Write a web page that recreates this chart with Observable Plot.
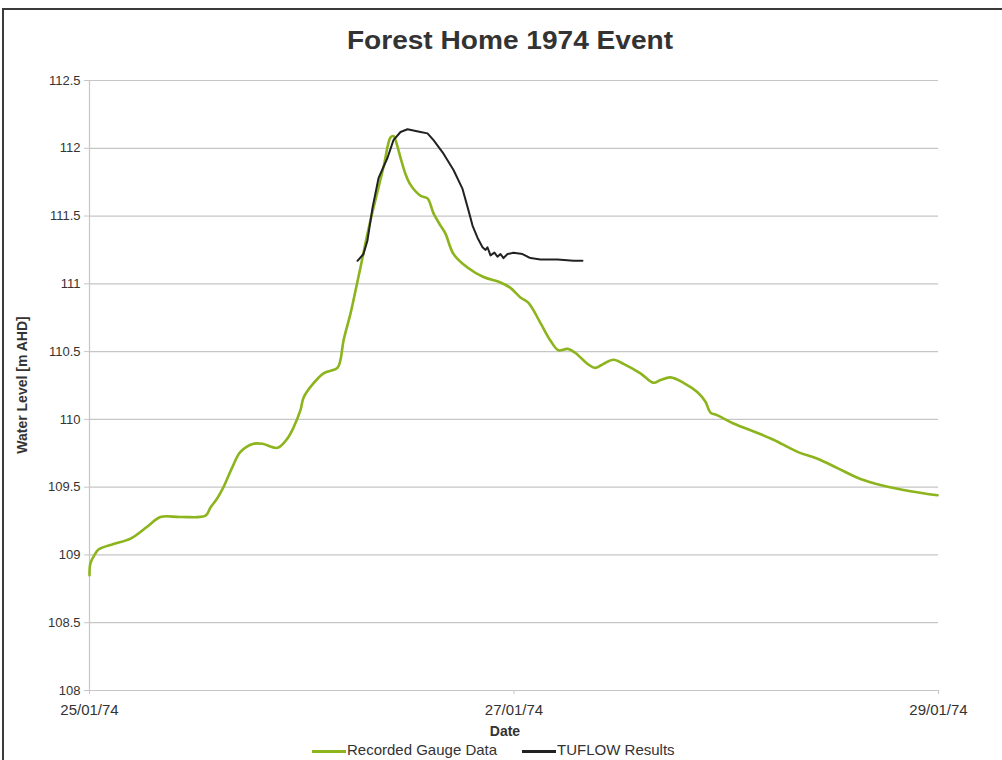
<!DOCTYPE html>
<html>
<head>
<meta charset="utf-8">
<script src="https://cdn.jsdelivr.net/npm/d3@7"></script>
<script src="https://cdn.jsdelivr.net/npm/@observablehq/plot@0.6"></script>
<style>
  html, body { margin: 0; padding: 0; background: #fff; width: 1002px; height: 760px; overflow: hidden; }
  body { position: relative; font-family: "Liberation Sans", Arial, sans-serif; color: #333; }
  #frame { position: absolute; left: 2px; top: 8px; width: 1100px; height: 800px;
           border-left: 2px solid #3a3a3a; border-top: 2px solid #3a3a3a; box-sizing: border-box; }
  #title { position: absolute; left: 0; width: 1020px; top: 25px; text-align: center;
           font-size: 26px; font-weight: bold; line-height: 30px; color: #333;
           transform: scaleX(1.08); transform-origin: 510px 0; }
  #chart { position: absolute; left: 0; top: 60px; }
  #ylabel { position: absolute; left: 22px; top: 385px; transform: translate(-50%, -50%) rotate(-90deg);
            font-size: 14px; font-weight: bold; white-space: nowrap; color: #333; }
  #xlabel { position: absolute; left: 0; width: 1010px; top: 723px; text-align: center;
            font-size: 14px; font-weight: bold; color: #333; }
  #legend { position: absolute; left: 312px; top: 741px; font-size: 15px; line-height: 18px; white-space: nowrap; color: #333; }
  #legend span.sw { display: inline-block; width: 34px; height: 3px; vertical-align: middle; margin-right: 1px; }
</style>
</head>
<body>
<div id="frame"></div>
<div id="title">Forest Home 1974 Event</div>
<div id="chart"></div>
<div id="ylabel">Water Level [m AHD]</div>
<div id="xlabel">Date</div>
<div id="legend"><span class="sw" style="background:#8cb41c"></span>Recorded Gauge Data<span style="display:inline-block;width:25px"></span><span class="sw" style="background:#222"></span>TUFLOW Results</div>
<script>
// Hours after 25/01/74 00:00 and water levels (m AHD)
const gaugeHours = [0,0.11,0.57,1.02,2.71,4.64,6.56,8.03,10.29,13.12,13.68,14.47,15.15,16.17,17.07,18.54,19.56,21.26,22.39,23.07,23.86,24.20,24.99,26.46,28.04,28.38,28.72,29.51,30.08,30.64,31.43,32.11,33.24,34.04,34.37,34.60,35.17,35.73,36.30,37.43,38.22,38.90,39.69,40.25,41.16,42.74,44.55,46.47,47.60,48.73,49.64,51.00,52.13,53.03,54.05,54.95,56.31,57.21,58.12,59.25,60.38,62.30,63.77,64.56,65.70,67.17,68.75,69.65,70.22,71.01,72.82,75.53,77.34,80.06,82.32,84.58,87.18,89.78,92.83,95.89];
const gaugeLevels = [108.85,108.94,109.00,109.04,109.08,109.12,109.21,109.28,109.28,109.29,109.35,109.42,109.50,109.65,109.76,109.82,109.82,109.79,109.86,109.94,110.07,110.16,110.24,110.34,110.38,110.44,110.58,110.78,110.95,111.12,111.37,111.56,111.86,112.08,112.09,112.06,111.93,111.81,111.73,111.65,111.63,111.52,111.43,111.37,111.22,111.12,111.05,111.01,110.97,110.90,110.86,110.71,110.58,110.51,110.52,110.49,110.41,110.38,110.41,110.44,110.41,110.34,110.27,110.29,110.31,110.27,110.20,110.13,110.05,110.03,109.97,109.90,109.85,109.76,109.71,109.64,109.56,109.51,109.47,109.44];

const tuflowHours = [30.30,30.98,31.43,32.00,32.68,33.70,34.37,35.17,35.96,37.43,38.22,38.90,40.03,41.16,42.18,42.86,43.31,43.87,44.44,44.78,45.00,45.34,45.79,46.13,46.47,46.81,47.27,47.94,48.96,49.53,49.87,51.00,52.92,54.73,55.74];
const tuflowLevels = [111.17,111.22,111.32,111.56,111.78,111.93,112.06,112.12,112.14,112.12,112.11,112.06,111.96,111.84,111.70,111.54,111.43,111.34,111.27,111.25,111.27,111.21,111.23,111.20,111.22,111.19,111.22,111.23,111.22,111.20,111.19,111.18,111.18,111.17,111.17];

const xTickDates = ["1974-01-25", "1974-01-27", "1974-01-29"];
const yTicks = [108, 108.5, 109, 109.5, 110, 110.5, 111, 111.5, 112, 112.5];

const t0 = Date.UTC(1974, 0, 25);
const toDate = h => new Date(t0 + h * 3600e3);
const gauge = gaugeHours.map((h, i) => ({date: toDate(h), level: gaugeLevels[i]}));
const tuflow = tuflowHours.map((h, i) => ({date: toDate(h), level: tuflowLevels[i]}));
const xTicks = xTickDates.map(s => new Date(s + "T00:00:00Z"));

const chart = Plot.plot({
  width: 1002,
  height: 680,
  marginLeft: 89,
  marginRight: 64,
  marginTop: 20,
  marginBottom: 50,
  style: {fontFamily: "'Liberation Sans', Arial, sans-serif", fontSize: "13px", color: "#333", background: "transparent", overflow: "visible"},
  x: {type: "utc", domain: [xTicks[0], xTicks[2]]},
  y: {domain: [108, 112.5]},
  marks: [
    Plot.gridY(yTicks, {stroke: "#c6c6c6", strokeOpacity: 1, strokeWidth: 1.2}),
    Plot.ruleX([xTicks[0]], {stroke: "#c6c6c6", strokeWidth: 1.2}),
    Plot.ruleY([108], {stroke: "#c6c6c6", strokeWidth: 1.2}),
    Plot.axisY(yTicks, {tickSize: 5, tickPadding: 4, stroke: "#c6c6c6", fill: "#333", fontSize: 13, tickFormat: d => String(d), label: null}),
    Plot.axisX(xTicks, {tickSize: 4, tickPadding: 10, stroke: "#c6c6c6", fill: "#333", fontSize: 15, tickFormat: d3.utcFormat("%d/%m/%y"), label: null}),
    Plot.line(gauge, {x: "date", y: "level", stroke: "#8cb41c", strokeWidth: 2.6, curve: "catmull-rom"}),
    Plot.line(tuflow, {x: "date", y: "level", stroke: "#222", strokeWidth: 2, curve: "linear"})
  ]
});
document.getElementById("chart").appendChild(chart);
</script>
</body>
</html>
